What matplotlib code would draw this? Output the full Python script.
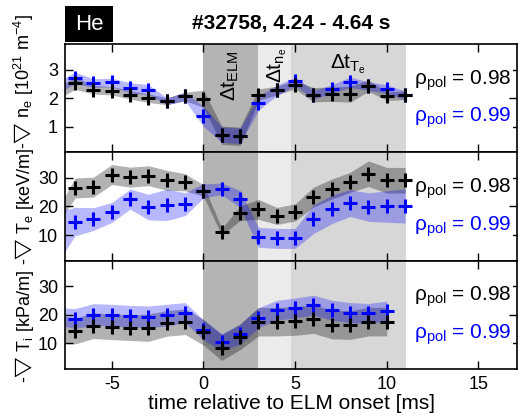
import numpy as np
import matplotlib
matplotlib.use("Agg")
import matplotlib.pyplot as plt
from matplotlib.patches import Rectangle

plt.rcParams['font.family'] = ['Liberation Sans', 'DejaVu Sans']
plt.rcParams['mathtext.fontset'] = 'custom'
plt.rcParams['mathtext.rm'] = 'Liberation Sans'
plt.rcParams['mathtext.it'] = 'Liberation Sans:italic'
plt.rcParams['mathtext.bf'] = 'Liberation Sans:bold'
plt.rcParams['mathtext.fallback'] = 'stixsans'
plt.rcParams['axes.unicode_minus'] = False

# ---- data ----
t_top = [-8, -7, -6, -5, -4, -3, -2, -1, 0, 1, 2, 3, 4, 5, 6, 7, 8, 9, 10, 11]
ne_098 = [2.15, 2.53, 2.30, 2.26, 2.12, 2.00, 1.89, 2.06, 1.98, 0.70, 0.66,
          2.12, 2.27, 2.47, 2.12, 2.14, 2.14, 2.44, 2.07, 2.10]
ne_098_err = [0.2, 0.22, 0.15, 0.15, 0.15, 0.15, 0.12, 0.15, 0.3, 0.32, 0.32,
              0.2, 0.15, 0.15, 0.25, 0.25, 0.28, 0.2, 0.15, 0.15]
ne_099 = [2.35, 2.71, 2.53, 2.55, 2.36, 2.30, 1.89, 2.06, 1.36, 0.72, 0.68,
          1.83, 2.27, 2.59, 2.12, 2.32, 2.56, 2.42, 2.32, 2.10]
ne_099_err = [0.2, 0.2, 0.15, 0.15, 0.18, 0.18, 0.12, 0.15, 0.35, 0.27, 0.27,
              0.25, 0.18, 0.15, 0.15, 0.15, 0.18, 0.15, 0.15, 0.15]

te_098 = [16.0, 26.5, 26.8, 31.2, 30.3, 30.8, 29.2, 28.5, 25.6, 11.1, 17.6,
          19.0, 16.7, 17.9, 23.3, 26.1, 28.5, 31.5, 29.2, 29.2]
te_098_err = [2.5, 3.5, 3.5, 3.5, 3.5, 3.5, 3.5, 3.0, 2.0, 1.2, 2.5,
              3.5, 3.0, 3.0, 3.5, 3.5, 3.5, 4.5, 4.5, 4.5]
te_099 = [9.0, 14.7, 15.6, 17.9, 22.6, 19.8, 20.6, 20.8, 25.5, 26.2, 22.6,
          9.2, 8.8, 8.8, 15.5, 19.0, 21.2, 19.8, 20.0, 20.2]
te_099_err = [9.0, 5.0, 4.0, 3.5, 3.5, 4.5, 5.5, 4.0, 2.5, 2.0, 3.0,
              3.5, 3.5, 3.5, 5.0, 5.0, 4.7, 5.0, 5.5, 6.0]

t_bot = [-8, -7, -6, -5, -4, -3, -2, -1, 0, 1, 2, 3, 4, 5, 6, 7, 8, 9, 10]
ti_098 = [15.0, 14.3, 16.2, 15.8, 15.5, 15.5, 17.0, 17.6, 13.9, 8.5, 12.3,
          17.6, 17.6, 17.8, 18.5, 16.6, 16.4, 17.6, 17.6]
ti_098_err = [5.0, 4.5, 4.5, 4.5, 4.5, 4.8, 4.5, 4.5, 4.5, 4.5, 4.5,
              5.0, 5.0, 5.0, 5.0, 5.0, 5.0, 5.0, 5.0]
ti_099 = [19.5, 18.7, 20.1, 19.9, 19.5, 19.3, 19.9, 20.8, 14.7, 10.4, 13.2,
          19.0, 21.6, 22.4, 23.4, 21.6, 20.8, 20.5, 21.3]
ti_099_err = [3.0, 3.5, 3.8, 3.8, 3.8, 3.8, 3.8, 3.5, 3.5, 3.0, 3.5,
              3.5, 3.5, 3.5, 3.5, 3.5, 3.5, 3.5, 3.5]

# time windows
dt_elm = (0, 3)
dt_ne = (3, 4.8)
dt_te = (4.8, 11.05)

labels_rho = [r'$\mathrm{\rho_{pol}}$ = 0.98', r'$\mathrm{\rho_{pol}}$ = 0.99']

W, H = 518, 419
fig = plt.figure(figsize=(W / 100, H / 100), dpi=100)
gs = fig.add_gridspec(3, 1, left=65 / W, right=517 / W, top=1 - 44 / H,
                      bottom=1 - 369 / H, hspace=0)
axes = [fig.add_subplot(gs[i]) for i in range(3)]

panels = [
    (axes[0], t_top, ne_098, ne_098_err, ne_099, ne_099_err, (0.1, 3.9), [1, 2, 3]),
    (axes[1], t_top, te_098, te_098_err, te_099, te_099_err, (1, 39), [10, 20, 30]),
    (axes[2], t_bot, ti_098, ti_098_err, ti_099, ti_099_err, (1, 39), [10, 20, 30]),
]

for ax, t, yb, eb, yc, ec, ylim, yt in panels:
    t = np.array(t); yb = np.array(yb); eb = np.array(eb)
    yc = np.array(yc); ec = np.array(ec)
    ax.axvspan(*dt_elm, color='#b4b4b4', lw=0, zorder=0)
    ax.axvspan(*dt_ne, color='#ebebeb', lw=0, zorder=0)
    ax.axvspan(*dt_te, color='#d7d7d7', lw=0, zorder=0)
    ax.fill_between(t, yb - eb, yb + eb, color='black', alpha=0.3, lw=0, zorder=1)
    ax.fill_between(t, yc - ec, yc + ec, color='blue', alpha=0.28, lw=0, zorder=1)
    ax.plot(t, yc, ls='none', marker='+', ms=9.5, mew=2.2, color='blue', zorder=3)
    ax.plot(t, yb, ls='none', marker='+', ms=9.5, mew=2.2, color='black', zorder=4)
    ax.set_xlim(-7.55, 17.1)
    ax.set_ylim(*ylim)
    ax.set_yticks(yt)
    ax.set_xticks([-5, 0, 5, 10, 15])
    ax.tick_params(direction='in', top=True, right=True, length=6, width=1,
                   labelsize=13, pad=5)
    for s in ax.spines.values():
        s.set_linewidth(1.2)
    ax.text(0.988, 0.665, labels_rho[0], transform=ax.transAxes, ha='right',
            va='center', fontsize=15, color='black', zorder=6,
            bbox=dict(facecolor='white', edgecolor='none', pad=1))
    ax.text(0.988, 0.315, labels_rho[1], transform=ax.transAxes, ha='right',
            va='center', fontsize=15, color='blue', zorder=6,
            bbox=dict(facecolor='white', edgecolor='none', pad=1))

axes[0].tick_params(labelbottom=False)
axes[1].tick_params(labelbottom=False)

# window labels
xt = axes[0].get_xaxis_transform()
axes[0].text(1.45, 0.71, r'$\mathrm{\Delta t_{ELM}}$', transform=xt,
             rotation=90, ha='center', va='center', fontsize=15)
axes[0].text(4.0, 0.80, r'$\mathrm{\Delta t_{n_e}}$', transform=xt,
             rotation=90, ha='center', va='center', fontsize=15)
axes[0].text(7.9, 0.81, r'$\mathrm{\Delta t_{T_e}}$', transform=xt,
             ha='center', va='center', fontsize=15)

axes[2].set_xlabel('time relative to ELM onset [ms]', fontsize=15, labelpad=1)

# y labels
fig.text(24 / W, 1 - 82 / H, r'-$\bigtriangledown$ n$_\mathrm{e}$ [10$^{21}$ m$^{-4}$]', rotation=90,
         ha='center', va='center', fontsize=13)
fig.text(24 / W, 1 - 206 / H, r'-$\bigtriangledown$ T$_\mathrm{e}$ [keV/m]', rotation=90,
         ha='center', va='center', fontsize=13)
fig.text(24 / W, 1 - 327 / H, r'-$\bigtriangledown$ T$_\mathrm{i}$ [kPa/m]', rotation=90,
         ha='center', va='center', fontsize=13)

# header
fig.patches.append(Rectangle((65 / W, 1 - 42 / H), 48 / W, 36 / H, transform=fig.transFigure,
                             facecolor='black', edgecolor='none'))
fig.text(89 / W, 1 - 29.5 / H, 'He', color='white', ha='center', va='baseline', fontsize=16)
fig.text(291 / W, 1 - 29.5 / H, '#32758, 4.24 - 4.64 s', ha='center', va='baseline',
         fontsize=15, fontweight='bold')

fig.savefig('out.png', dpi=100)
